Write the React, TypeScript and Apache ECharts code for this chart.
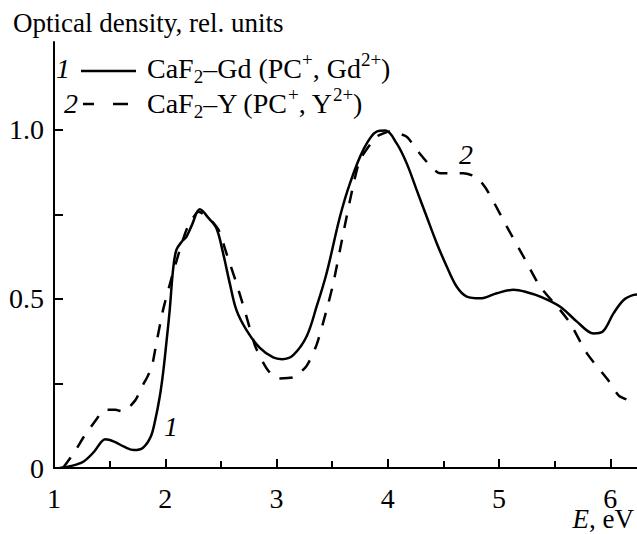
import React, { useEffect, useRef } from 'react';
import * as echarts from 'echarts';

// Curve 1: CaF2–Gd (solid)
const gdEnergy = [1.05, 1.1, 1.2, 1.27, 1.36, 1.42, 1.46, 1.54, 1.63, 1.72, 1.8, 1.87, 1.91, 1.95, 1.98, 2.01, 2.04, 2.07, 2.1, 2.15, 2.19, 2.24, 2.31, 2.39, 2.46, 2.52, 2.58, 2.64, 2.73, 2.85, 2.97, 3.05, 3.15, 3.27, 3.36, 3.45, 3.57, 3.66, 3.78, 3.9, 3.98, 4.08, 4.17, 4.26, 4.35, 4.44, 4.53, 4.62, 4.71, 4.83, 4.98, 5.13, 5.25, 5.37, 5.55, 5.7, 5.85, 5.93, 6.03, 6.12, 6.21, 6.24];
const gdDensity = [0.0, 0.002, 0.01, 0.02, 0.048, 0.075, 0.085, 0.078, 0.063, 0.053, 0.06, 0.093, 0.142, 0.21, 0.28, 0.37, 0.467, 0.586, 0.645, 0.67, 0.684, 0.719, 0.765, 0.739, 0.709, 0.635, 0.546, 0.467, 0.408, 0.355, 0.327, 0.322, 0.334, 0.389, 0.477, 0.576, 0.743, 0.842, 0.941, 0.995, 0.998, 0.96, 0.901, 0.822, 0.743, 0.665, 0.596, 0.536, 0.507, 0.502, 0.517, 0.527, 0.52, 0.507, 0.477, 0.433, 0.398, 0.403, 0.458, 0.497, 0.512, 0.513];

// Curve 2: CaF2–Y (dashed)
const yEnergy = [1.08, 1.18, 1.27, 1.39, 1.45, 1.55, 1.62, 1.73, 1.79, 1.84, 1.88, 1.92, 1.98, 2.06, 2.19, 2.3, 2.39, 2.48, 2.55, 2.64, 2.73, 2.81, 2.91, 3.0, 3.15, 3.27, 3.36, 3.45, 3.51, 3.6, 3.68, 3.75, 3.9, 4.02, 4.17, 4.26, 4.47, 4.68, 4.8, 4.88, 4.95, 5.07, 5.22, 5.37, 5.55, 5.64, 5.79, 5.98, 6.08, 6.24];
const yDensity = [0.0, 0.045, 0.093, 0.148, 0.172, 0.172, 0.167, 0.2, 0.24, 0.27, 0.3, 0.369, 0.467, 0.566, 0.704, 0.758, 0.74, 0.704, 0.635, 0.546, 0.448, 0.359, 0.295, 0.265, 0.268, 0.302, 0.364, 0.467, 0.546, 0.694, 0.822, 0.911, 0.98, 0.995, 0.98, 0.941, 0.872, 0.872, 0.86, 0.828, 0.788, 0.714, 0.625, 0.536, 0.467, 0.428, 0.339, 0.26, 0.213, 0.192];

const xTickValues = [1, 2, 3, 4, 5, 6];
const xMinorTickValues = [1.5, 2.5, 3.5, 4.5, 5.5];
const yTickValues = [0, 0.25, 0.5, 0.75, 1];
const yLabelValues = [0, 0.5, 1];

const yAxisTitle = 'Optical density, rel. units';
const legend1 = '{n|CaF}{s|2}{n|–Gd (PC}{p|+}{n|, Gd}{p|2+}{n|)}';
const legend2 = '{n|CaF}{s|2}{n|–Y (PC}{p|+}{n|, Y}{p|2+}{n|)}';

const SERIF = 'Liberation Serif';
const FS = 28;

const rich = {
  n: { fontFamily: SERIF, fontSize: FS, lineHeight: 36, fill: '#000', color: '#000' },
  s: { fontFamily: SERIF, fontSize: 19, lineHeight: 17, verticalAlign: 'bottom', fill: '#000', color: '#000' },
  p: { fontFamily: SERIF, fontSize: 19, lineHeight: 25, verticalAlign: 'top', fill: '#000', color: '#000' },
  i: { fontFamily: SERIF, fontSize: 27, fontStyle: 'italic', lineHeight: 30, fill: '#000', color: '#000' },
  m: { fontFamily: SERIF, fontSize: 27, lineHeight: 30, fill: '#000', color: '#000' },
};

export default function App() {
  const ref = useRef<HTMLDivElement>(null);
  useEffect(() => {
    const chart = echarts.init(ref.current!, null, { renderer: 'svg' });
    const gdData = gdEnergy.map((x, i) => [x, gdDensity[i]]);
    const yData = yEnergy.map((x, i) => [x, yDensity[i]]);
    const axisLine = { show: true, lineStyle: { color: '#000', width: 2 } };
    chart.setOption({
      animation: false,
      backgroundColor: '#fff',
      textStyle: { fontFamily: SERIF },
      grid: { left: 54, right: 0, top: 42, bottom: 66, containLabel: false },
      xAxis: [
        {
          type: 'value', min: 1, max: 6.24, position: 'bottom',
          axisLine,
          axisTick: { show: true, inside: true, length: 9, customValues: xTickValues, lineStyle: { color: '#000', width: 2 } },
          axisLabel: { show: true, customValues: xTickValues, margin: 16, color: '#000', fontFamily: SERIF, fontSize: FS },
          splitLine: { show: false },
        },
        {
          type: 'value', min: 1, max: 6.24, position: 'bottom', offset: 0,
          axisLine: { show: false },
          axisTick: { show: true, inside: true, length: 7, customValues: xMinorTickValues, lineStyle: { color: '#000', width: 2 } },
          axisLabel: { show: false },
          splitLine: { show: false },
        },
      ],
      yAxis: {
        type: 'value', min: 0, max: 1.26,
        axisLine,
        axisTick: { show: true, inside: true, length: 9, customValues: yTickValues, lineStyle: { color: '#000', width: 2 } },
        axisLabel: {
          show: true, customValues: yLabelValues, margin: 10, color: '#000', fontFamily: SERIF, fontSize: FS,
          formatter: (v: number) => (v === 0 ? '0' : v.toFixed(1)),
        },
        splitLine: { show: false },
      },
      series: [
        {
          type: 'line', name: 'CaF2–Gd', data: gdData, showSymbol: false, smooth: 0.35,
          lineStyle: { color: '#000', width: 2.5, type: 'solid' }, z: 3,
        },
        {
          type: 'line', name: 'CaF2–Y', data: yData, showSymbol: false, smooth: 0.2,
          lineStyle: { color: '#000', width: 2.5, type: [13, 12] }, z: 2,
        },
      ],
      graphic: [
        { type: 'text', x: 13, y: 23, style: { text: yAxisTitle, fontFamily: SERIF, fontSize: 27, fill: '#000', align: 'left', verticalAlign: 'middle' } },
        { type: 'text', x: 63, y: 68, style: { text: '1', fontFamily: SERIF, fontSize: FS, fontStyle: 'italic', fill: '#000', align: 'center', verticalAlign: 'middle' } },
        { type: 'line', shape: { x1: 81, y1: 71, x2: 136, y2: 71 }, style: { stroke: '#000', lineWidth: 2.5 } },
        { type: 'text', x: 147, y: 50, style: { text: legend1, rich, fontFamily: SERIF, fontSize: FS, fill: '#000', align: 'left', verticalAlign: 'top' } },
        { type: 'text', x: 71, y: 103, style: { text: '2', fontFamily: SERIF, fontSize: FS, fontStyle: 'italic', fill: '#000', align: 'center', verticalAlign: 'middle' } },
        { type: 'line', shape: { x1: 83, y1: 104, x2: 94, y2: 104 }, style: { stroke: '#000', lineWidth: 2.5 } },
        { type: 'line', shape: { x1: 113, y1: 104, x2: 128, y2: 104 }, style: { stroke: '#000', lineWidth: 2.5 } },
        { type: 'text', x: 147, y: 85, style: { text: legend2, rich, fontFamily: SERIF, fontSize: FS, fill: '#000', align: 'left', verticalAlign: 'top' } },
        { type: 'text', x: 171, y: 426, style: { text: '1', fontFamily: SERIF, fontSize: FS, fontStyle: 'italic', fill: '#000', align: 'center', verticalAlign: 'middle' } },
        { type: 'text', x: 466, y: 154, style: { text: '2', fontFamily: SERIF, fontSize: FS, fontStyle: 'italic', fill: '#000', align: 'center', verticalAlign: 'middle' } },
        { type: 'text', x: 634, y: 519, style: { text: '{i|E}{m|, eV}', rich, fontFamily: SERIF, fontSize: 27, fill: '#000', align: 'right', verticalAlign: 'middle' } },
      ],
    });
    return () => chart.dispose();
  }, []);
  return <div ref={ref} style={{ position: 'absolute', left: 0, top: 0, width: 637, height: 534, background: '#fff' }} />;
}
